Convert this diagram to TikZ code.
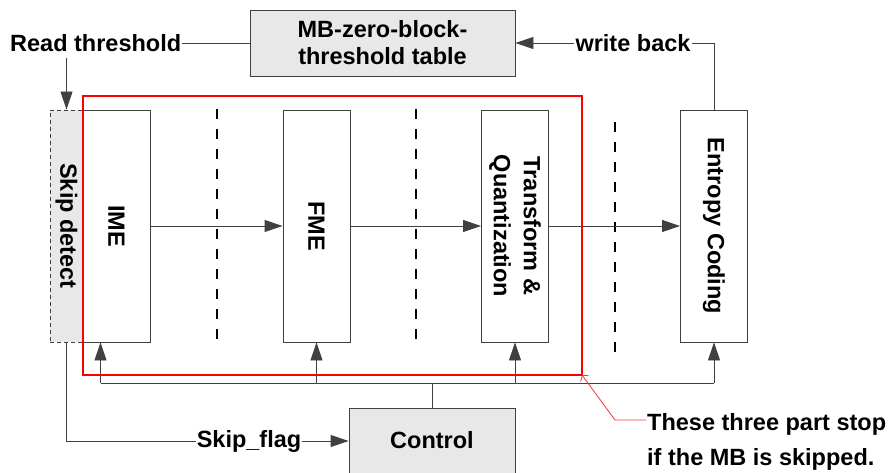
\documentclass[tikz,border=0pt]{standalone}
\usepackage{fontspec}
\setmainfont{Liberation Sans}
\usetikzlibrary{arrows.meta}
\definecolor{boxgray}{HTML}{E8E8E8}
\definecolor{edgegray}{HTML}{404040}
\tikzset{
  lbl/.style={font=\fontsize{23.5}{28}\selectfont\bfseries, inner sep=1pt},
  stage/.style={draw=edgegray, line width=0.9pt, fill=white, minimum width=67pt, minimum height=232pt, inner sep=0pt,
                font=\fontsize{23.5}{30}\selectfont\bfseries, align=center},
  graybox/.style={draw=edgegray, line width=0.9pt, fill=boxgray, inner sep=0pt,
                font=\fontsize{23.5}{27}\selectfont\bfseries, align=center},
  wire/.style={draw=edgegray, line width=0.9pt},
  arr/.style={wire, -{Triangle[length=18pt,width=12pt]}},
  stagesep/.style={line width=1.4pt, dash pattern=on 10pt off 10pt},
  vtext/.style={rotate=-90, font=\fontsize{23.5}{30}\selectfont\bfseries, align=center},
}
\begin{document}
\begin{tikzpicture}[x=1pt,y=-1pt]
\useasboundingbox (0,0) rectangle (889,473);

% threshold table and side labels
\node[graybox, minimum width=265pt, minimum height=66pt] (tbl) at (382.5,43) {MB-zero-block-\\threshold table};
\node[lbl, anchor=west] (rt) at (9,43) {Read threshold};
\node[lbl] (wb) at (633,43) {write back};

% pipeline stages
\node[graybox, dash pattern=on 4pt off 3pt, minimum width=33pt, minimum height=232pt] (skip) at (66.5,226) {};
\node[vtext] (skiptxt) at (skip.center) {Skip detect};
\node[stage] (ime) at (116.5,226) {};
\node[vtext] (imetxt) at (ime.center) {IME};
\node[stage] (fme) at (316.5,226) {};
\node[vtext] (fmetxt) at (fme.center) {FME};
\node[stage] (tq) at (515,226) {};
\node[vtext] (tqtxt) at (tq.center) {Transform \&\\Quantization};
\node[stage] (ent) at (714,226) {};
\node[vtext] (enttxt) at (ent.center) {Entropy Coding};

% control unit (runs past the lower edge)
\node[graybox, minimum width=166pt, minimum height=80pt, anchor=north] (ctrl) at (432,408) {};
\node[lbl] (ctrltxt) at (432,440) {Control};
\node[lbl] (sf) at (249,441) {Skip\_flag};

% stage separators
\draw[stagesep] (217,109) -- (217,342);
\draw[stagesep] (416,109) -- (416,342);
\draw[stagesep] (615,122) -- (615,355);

% data path
\draw[arr] (ime.east) -- (fme.west);
\draw[arr] (fme.east) -- (tq.west);
\draw[arr] (tq.east) -- (ent.west);

% threshold read / write back
\draw[wire] (rt.east) -- (tbl.west);
\draw[arr] ([yshift=-15pt]rt.center -| skip.north) -- (skip.north);
\draw[wire] (ent.north) |- (wb.east);
\draw[arr] (wb.west) -- (tbl.east);

% skip flag to control
\draw[wire] (skip.south) |- (sf.west);
\draw[arr] (sf.east) -- (ctrl.west |- sf.east);

% control bus
\coordinate (bus) at (432,383);
\draw[wire] (ctrl.north) -- (bus);
\draw[wire] ([xshift=-16pt]ime.south |- bus) -- (ent.south |- bus);
\draw[arr] ([xshift=-16pt]ime.south |- bus) -- ([xshift=-16pt]ime.south);
\draw[arr] (fme.south |- bus) -- (fme.south);
\draw[arr] (tq.south |- bus) -- (tq.south);
\draw[arr] (ent.south |- bus) -- (ent.south);

% stopped region and its note
\draw[red, line width=1.3pt] (83,96) rectangle (582,375);
\coordinate (corner) at (582,375);
\node[lbl, anchor=west, align=left, font=\fontsize{23.5}{35}\selectfont\bfseries] (note) at (646,442) {These three part stop\\if the MB is skipped.};
\draw[red!80, line width=0.8pt, {Straight Barb[length=4pt,width=10pt]}-] (corner) -- (615,420) -- (note.west |- 0,420);
\end{tikzpicture}
\end{document}
